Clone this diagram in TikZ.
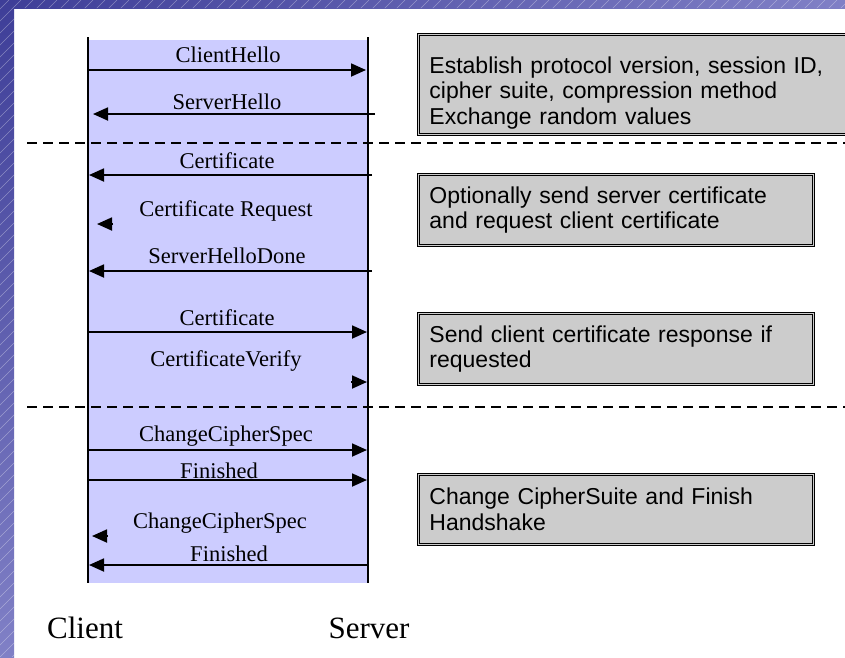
\documentclass[tikz,border=0pt]{standalone}
\usepackage{fontspec}
\setmainfont{Liberation Serif}
\newfontfamily\notefont{Liberation Sans}
\usetikzlibrary{arrows.meta}

\definecolor{lav}{HTML}{CCCCFF}
\definecolor{notegray}{HTML}{CCCCCC}
\definecolor{framedark}{HTML}{3E3E98}
\definecolor{framelight}{HTML}{8080C6}

\begin{document}
\begin{tikzpicture}[x=1pt,y=-1pt,
  lbl/.style={anchor=base, inner sep=0pt, font=\fontsize{22.5}{24}\selectfont},
  party/.style={anchor=base, inner sep=0pt, font=\fontsize{31}{33}\selectfont},
  msg/.style={line width=1.8pt, -{Triangle[length=15pt,width=13pt]}},
  lifeline/.style={line width=2pt},
  phase/.style={line width=1.8pt, dash pattern=on 10pt off 6pt},
  note/.style={draw=black, line width=0.9pt, double=notegray, double distance=0.8pt,
    fill=notegray, anchor=north west, align=left, inner xsep=11pt, inner ysep=0pt,
    font=\notefont\fontsize{23}{25.5}\selectfont},
]
\useasboundingbox (0,0) rectangle (845,657);
\clip (0,0) rectangle (845,657);

% page background and striped blue frame
\fill[white] (0,0) rectangle (845,657);
\shade[left color=framedark, right color=framelight] (0,0) rectangle (845,8);
\shade[top color=framedark, bottom color=framelight] (0,0) rectangle (14,657);
\begin{scope}
  \clip (0,0) -- (845,0) -- (845,8) -- (14,8) -- (14,657) -- (0,657) -- cycle;
  \foreach \i in {-660,-648,...,852}
    \draw[white, opacity=0.35, line width=0.5pt] (\i,657) -- (\i+657,0);
\end{scope}

% exchange area between the two parties
\fill[lav] (88,40) rectangle (368,583);
\coordinate (cTop) at (88,37);  \coordinate (cBot) at (88,583);
\coordinate (sTop) at (368,37); \coordinate (sBot) at (368,583);
\draw[lifeline] (cTop) -- (cBot);
\draw[lifeline] (sTop) -- (sBot);

% phase separators
\coordinate (d1a) at (27,143); \coordinate (d1b) at (845,143);
\coordinate (d2a) at (27,407); \coordinate (d2b) at (845,407);
\draw[phase] (d1a) -- (d1b);
\draw[phase] (d2a) -- (d2b);

% messages
\node[lbl] (tClientHello) at (228,62) {ClientHello};
\coordinate (m1a) at (88,70);  \coordinate (m1b) at (366,70);
\draw[msg] (m1a) -- (m1b);

\node[lbl] (tServerHello) at (227,109) {ServerHello};
\coordinate (m2a) at (375,114); \coordinate (m2b) at (93,114);
\draw[msg] (m2a) -- (m2b);

\node[lbl] (tCertS) at (227,168) {Certificate};
\coordinate (m3a) at (372,175); \coordinate (m3b) at (89,175);
\draw[msg] (m3a) -- (m3b);

\node[lbl] (tCertReq) at (226,216) {Certificate Request};
\coordinate (m4a) at (113,224); \coordinate (m4b) at (97,224);
\draw[msg] (m4a) -- (m4b);

\node[lbl] (tHelloDone) at (227,263) {ServerHelloDone};
\coordinate (m5a) at (372,271); \coordinate (m5b) at (89,271);
\draw[msg] (m5a) -- (m5b);

\node[lbl] (tCertC) at (227,325) {Certificate};
\coordinate (m6a) at (88,332); \coordinate (m6b) at (367,332);
\draw[msg] (m6a) -- (m6b);

\node[lbl] (tCertVerify) at (226,366) {CertificateVerify};
\coordinate (m7a) at (351,382); \coordinate (m7b) at (367,382);
\draw[msg] (m7a) -- (m7b);

\node[lbl] (tCCSc) at (226,441) {ChangeCipherSpec};
\coordinate (m8a) at (88,450); \coordinate (m8b) at (367,450);
\draw[msg] (m8a) -- (m8b);

\node[lbl] (tFinC) at (219,478) {Finished};
\coordinate (m9a) at (88,480); \coordinate (m9b) at (367,480);
\draw[msg] (m9a) -- (m9b);

\node[lbl] (tCCSs) at (220,528) {ChangeCipherSpec};
\coordinate (m10a) at (108,536); \coordinate (m10b) at (92,536);
\draw[msg] (m10a) -- (m10b);

\node[lbl] (tFinS) at (229,561) {Finished};
\coordinate (m11a) at (368,565); \coordinate (m11b) at (89,565);
\draw[msg] (m11a) -- (m11b);

% party names
\node[party] (client) at (85,638) {Client};
\node[party] (server) at (369,638) {Server};

% phase descriptions
\node[note, text width=420pt, minimum height=100pt] (n1) at (418,34)
  {\rule{0pt}{33pt}Establish protocol version, session ID,\\cipher suite, compression method\\Exchange random values};
\node[note, text width=373pt, minimum height=71pt] (n2) at (418,174)
  {Optionally send server certificate\\and request client certificate};
\node[note, text width=373pt, minimum height=71pt] (n3) at (418,313)
  {Send client certificate response if\\requested};
\node[note, text width=373pt, minimum height=70pt] (n4) at (418,474)
  {Change CipherSuite and Finish\\Handshake};
\end{tikzpicture}
\end{document}
